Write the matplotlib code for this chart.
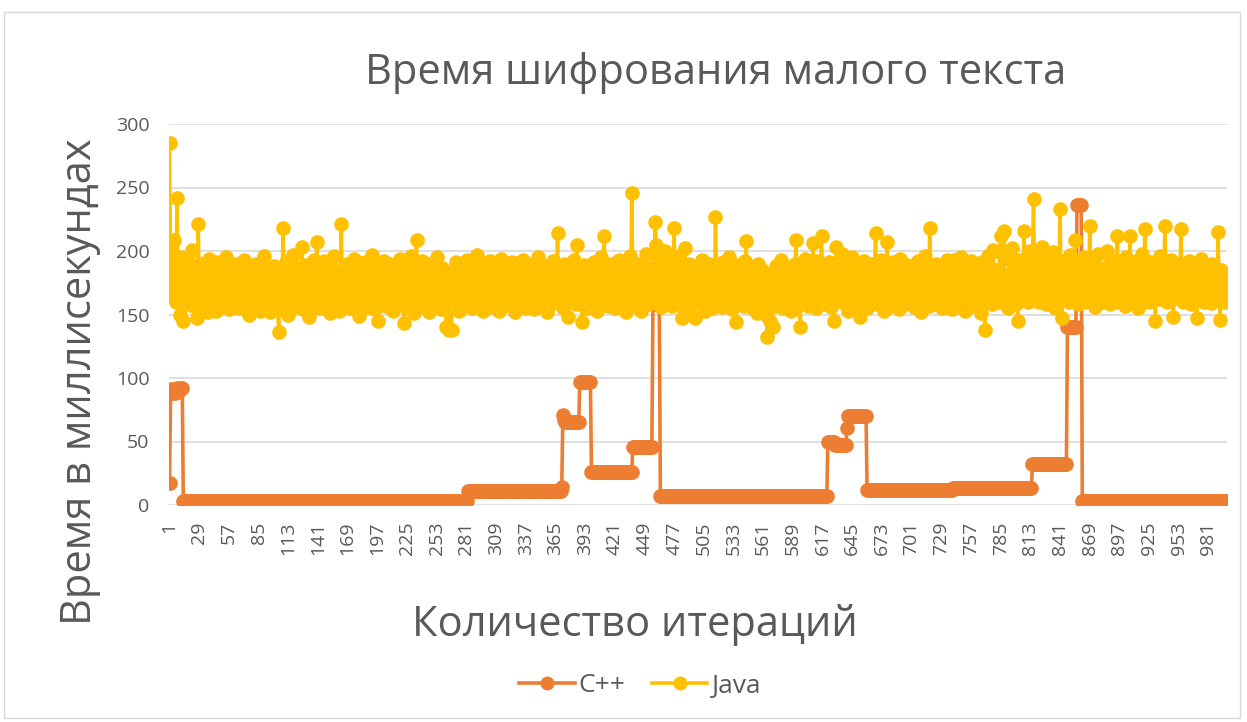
import numpy as np
import matplotlib
matplotlib.use("Agg")
import matplotlib.pyplot as plt
from matplotlib.patches import Rectangle

plt.rcParams['font.family'] = ['Open Sans', 'DejaVu Sans']

# C++: run-length levels
cpp_levels = [17, 91, 88, 89, 90, 88, 90, 92, 89, 90, 91, 92, 92,
              3, 11, 14, 71, 67, 65, 97, 26, 46, 158, 7, 50, 47, 61, 70,
              12, 13, 32, 140, 236, 3]
cpp_counts = [1, 1, 1, 1, 1, 1, 1, 1, 1, 1, 1, 1, 1,
              269, 88, 1, 1, 1, 14, 11, 39, 19, 7, 158, 7, 11, 1, 18,
              81, 75, 33, 9, 5, 137]

java = [
    285, 180, 165, 190, 209, 175, 160, 242, 170, 185, 150, 195, 172, 145, 188, 158, 176, 192, 163, 181,
    168, 201, 157, 184, 170, 162, 147, 221, 178, 155, 190, 166, 173, 159, 186, 171, 152, 194, 164, 179,
    158, 187, 169, 175, 153, 191, 162, 180, 167, 156, 183, 172, 160, 195, 165, 177, 154, 188, 170, 161,
    182, 157, 174, 190, 163, 169, 155, 185, 176, 160, 193, 166, 158, 179, 171, 150, 187, 164, 181, 168,
    159, 175, 190, 162, 170, 153, 184, 177, 165, 196, 157, 173, 161, 186, 168, 152, 180, 171, 163, 188,
    166, 176, 158, 136, 182, 169, 155, 218, 174, 162, 191, 167, 150, 185, 172, 160, 197, 164, 178, 156,
    187, 170, 159, 181, 165, 203, 154, 176, 168, 189, 161, 173, 148, 184, 171, 158, 193, 166, 179, 207,
    162, 175, 155, 186, 169, 160, 192, 172, 157, 180, 165, 151, 188, 174, 163, 196, 158, 170, 183, 167,
    153, 178, 221, 164, 185, 171, 159, 190, 166, 176, 155, 183, 169, 161, 194, 172, 158, 181, 165, 149,
    187, 168, 174, 160, 191, 163, 179, 156, 185, 170, 162, 197, 166, 175, 154, 183, 171, 145, 188, 164,
    176, 159, 192, 168, 157, 184, 172, 161, 190, 165, 180, 153, 186, 170, 163, 178, 158, 194, 167, 175,
    160, 143, 182, 169, 155, 189, 173, 162, 196, 166, 178, 151, 185, 209, 164, 180, 170, 157, 192, 168,
    174, 159, 186, 163, 177, 152, 190, 171, 165, 183, 156, 173, 195, 161, 179, 168, 154, 187, 170, 162,
    181, 140, 166, 175, 138, 158, 138, 184, 172, 160, 191, 164, 178, 153, 187, 169, 162, 182, 157, 174,
    166, 193, 160, 179, 171, 155, 188, 167, 176, 162, 197, 158, 184, 170, 164, 190, 153, 177, 168, 183,
    160, 174, 192, 165, 180, 156, 187, 171, 162, 185, 168, 153, 178, 194, 163, 175, 159, 189, 170, 166,
    182, 157, 173, 191, 164, 179, 152, 186, 169, 161, 184, 175, 158, 193, 167, 180, 155, 172, 188, 163,
    176, 160, 190, 168, 154, 183, 171, 162, 195, 165, 179, 157, 186, 170, 163, 181, 152, 174, 189, 166,
    158, 177, 192, 164, 180, 171, 214, 160, 185, 168, 175, 155, 190, 163, 182, 169, 148, 187, 173, 161,
    179, 166, 193, 158, 205, 172, 160, 184, 168, 144, 176, 189, 163, 181, 155, 170, 186, 165, 178, 159,
    191, 167, 174, 153, 183, 170, 162, 195, 166, 178, 212, 160, 187, 172, 157, 180, 168, 190, 163, 176,
    155, 185, 171, 161, 193, 168, 179, 158, 188, 165, 174, 152, 183, 169, 196, 162, 246, 175, 160, 186,
    170, 157, 190, 166, 180, 153, 184, 172, 162, 198, 167, 176, 158, 187, 171, 163, 182, 160, 223, 205,
    175, 192, 164, 181, 156, 189, 170, 200, 165, 178, 160, 193, 168, 184, 157, 174, 218, 162, 186, 171,
    158, 196, 166, 147, 180, 169, 202, 163, 177, 155, 190, 172, 160, 185, 167, 175, 147, 188, 164, 179,
    170, 159, 193, 165, 182, 153, 186, 171, 162, 190, 168, 176, 155, 184, 166, 227, 173, 160, 188, 164,
    178, 156, 191, 169, 163, 183, 172, 158, 195, 167, 180, 154, 187, 170, 144, 176, 164, 189, 160, 182,
    168, 174, 157, 192, 208, 163, 179, 170, 186, 155, 165, 183, 161, 175, 151, 190, 167, 172, 158, 185,
    163, 178, 154, 150, 132, 169, 145, 181, 160, 140, 176, 165, 188, 157, 171, 184, 162, 193, 168, 155,
    180, 172, 160, 187, 164, 176, 153, 183, 169, 161, 190, 209, 166, 178, 158, 140, 185, 171, 163, 194,
    167, 175, 157, 188, 170, 162, 182, 206, 165, 179, 155, 192, 168, 160, 185, 212, 173, 158, 189, 166,
    177, 163, 191, 170, 156, 184, 168, 145, 180, 203, 161, 174, 187, 165, 198, 171, 159, 182, 167, 176,
    153, 189, 172, 160, 195, 166, 179, 157, 186, 170, 163, 148, 183, 168, 175, 192, 161, 178, 155, 187,
    169, 174, 160, 190, 165, 181, 214, 158, 184, 171, 162, 193, 167, 176, 153, 188, 170, 207, 163, 180,
    157, 173, 191, 166, 178, 160, 185, 169, 154, 194, 172, 163, 182, 158, 176, 168, 189, 161, 175, 184,
    165, 179, 156, 187, 171, 162, 192, 168, 174, 152, 183, 170, 160, 196, 166, 180, 157, 218, 173, 164,
    186, 169, 158, 190, 175, 161, 182, 167, 177, 155, 188, 171, 163, 193, 160, 178, 168, 185, 154, 174,
    193, 166, 181, 159, 189, 170, 162, 195, 165, 176, 153, 186, 172, 161, 183, 168, 192, 157, 179, 167,
    174, 188, 160, 184, 170, 151, 191, 166, 178, 138, 182, 169, 196, 162, 175, 187, 158, 201, 171, 164,
    185, 172, 160, 199, 212, 168, 177, 216, 163, 181, 170, 155, 194, 174, 165, 202, 169, 187, 158, 180,
    145, 176, 193, 166, 184, 171, 216, 162, 189, 174, 160, 200, 178, 167, 191, 241, 164, 185, 172, 196,
    160, 182, 170, 203, 166, 188, 175, 158, 194, 172, 163, 186, 178, 199, 168, 155, 190, 174, 164, 184,
    233, 170, 147, 192, 177, 165, 188, 172, 160, 197, 168, 182, 175, 163, 209, 186, 170, 158, 191, 176,
    166, 184, 172, 195, 160, 179, 188, 168, 220, 174, 163, 190, 177, 156, 185, 170, 198, 165, 181, 172,
    160, 187, 175, 167, 200, 171, 182, 158, 193, 176, 166, 185, 172, 160, 212, 178, 168, 189, 163, 183,
    174, 157, 195, 170, 180, 165, 212, 176, 160, 188, 171, 167, 192, 178, 155, 184, 170, 198, 163, 179,
    217, 168, 186, 174, 160, 191, 177, 165, 183, 170, 145, 189, 175, 162, 196, 171, 181, 166, 187, 220,
    173, 160, 185, 176, 167, 193, 170, 148, 182, 175, 163, 190, 178, 168, 217, 172, 160, 187, 174, 165,
    184, 170, 192, 176, 158, 181, 168, 189, 173, 147, 186, 175, 163, 194, 170, 180, 160, 188, 172, 166,
    183, 171, 159, 190, 175, 166, 187, 172, 162, 215, 176, 146, 185, 170, 163, 182, 160, 178,
]

cpp = np.repeat(cpp_levels, cpp_counts)
x = np.arange(1, len(java) + 1)

ORANGE = '#ED7D31'
YELLOW = '#FFC000'
GREY = '#595959'
GRID = '#D9D9D9'

fig = plt.figure(figsize=(12.47, 7.22), dpi=100)
fig.add_artist(Rectangle((4 / 1247, 4 / 722), 1236 / 1247, 706 / 722,
                         transform=fig.transFigure, fill=False,
                         edgecolor=GRID, lw=1))

ax = fig.add_axes([169 / 1247, 1 - 505 / 722, 1058 / 1247, 381 / 722])
ax.plot(x, cpp, color=ORANGE, lw=2.6, marker='o', ms=9.5, label='C++')
ax.plot(x, java, color=YELLOW, lw=2.6, marker='o', ms=9.5, label='Java')

ax.set_xlim(0.5, len(java) + 0.5)
ax.set_ylim(0, 300)
ax.set_yticks(range(0, 301, 50))
ax.set_xticks(range(1, len(java) + 1, 28))
ax.tick_params(axis='x', rotation=90, length=0, pad=12, labelsize=14, labelcolor=GREY)
ax.tick_params(axis='y', length=0, pad=14, labelsize=14, labelcolor=GREY)
ax.grid(axis='y', color=GRID, lw=1.2)
ax.set_axisbelow(True)
for s in ax.spines.values():
    s.set_visible(False)

fig.text(716 / 1247, 1 - 73 / 722, 'Время шифрования малого текста',
         ha='center', va='center', fontsize=30, color=GREY)
fig.text(80 / 1247, 1 - 382 / 722, 'Время в миллисекундах', rotation=90,
         ha='center', va='center', fontsize=30, color=GREY)
fig.text(635 / 1247, 1 - 625 / 722, 'Количество итераций',
         ha='center', va='center', fontsize=30, color=GREY)

fig.legend(loc='center', bbox_to_anchor=(640 / 1247, 1 - 686 / 722), ncol=2,
           frameon=False, fontsize=19, labelcolor=GREY, handlelength=2.1,
           handletextpad=0.15, columnspacing=1.0, markerscale=0.95)

fig.savefig('out.png', dpi=100)
